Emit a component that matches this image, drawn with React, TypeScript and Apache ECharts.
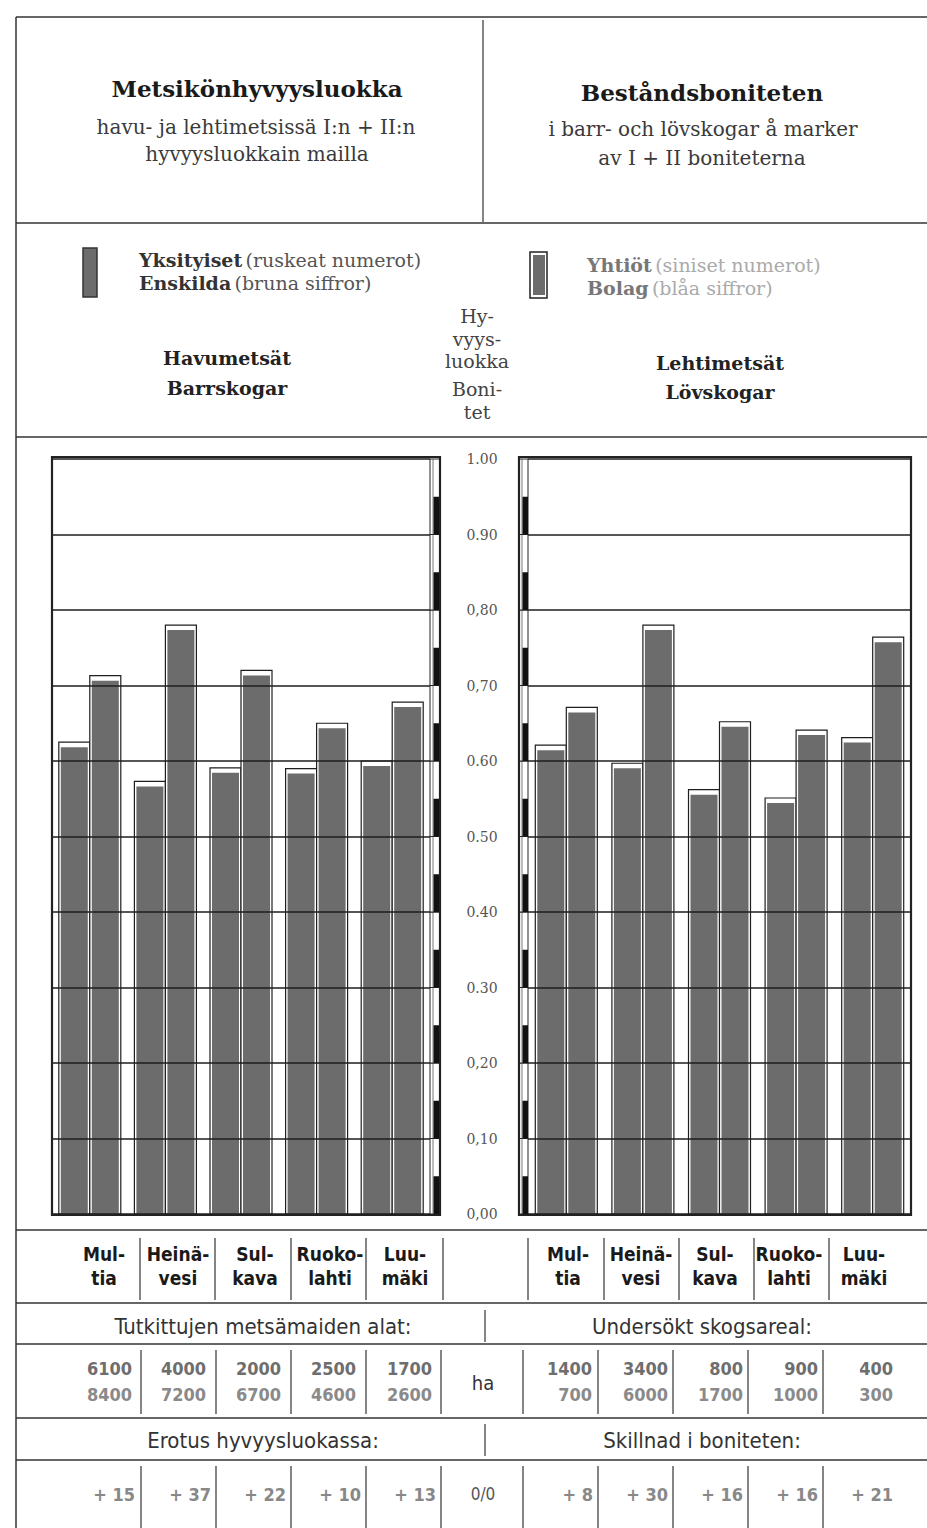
import React, { useEffect, useRef } from "react";
import * as echarts from "echarts";

// ---------- DATA ----------
const categories = ["Multia", "Heinävesi", "Sulkava", "Ruokolahti", "Luumäki"];
const categoryLabels = ["Mul-\ntia", "Heinä-\nvesi", "Sul-\nkava", "Ruoko-\nlahti", "Luu-\nmäki"];

// Havumetsät / Barrskogar
const conifPrivate = [0.625, 0.573, 0.591, 0.59, 0.6];
const conifCompany = [0.713, 0.78, 0.72, 0.65, 0.678];
// Lehtimetsät / Lövskogar
const decidPrivate = [0.621, 0.597, 0.562, 0.551, 0.631];
const decidCompany = [0.671, 0.78, 0.652, 0.641, 0.764];

const yTickLabels = ["0,00", "0,10", "0,20", "0.30", "0.40", "0.50", "0.60", "0,70", "0,80", "0.90", "1.00"];
const scaleSteps = [0, 0.1, 0.2, 0.3, 0.4, 0.5, 0.6, 0.7, 0.8, 0.9];

// Tutkittujen metsämaiden alat / Undersökt skogsareal (ha)
const areaConifPrivate = ["6100", "4000", "2000", "2500", "1700"];
const areaConifCompany = ["8400", "7200", "6700", "4600", "2600"];
const areaDecidPrivate = ["1400", "3400", "800", "900", "400"];
const areaDecidCompany = ["700", "6000", "1700", "1000", "300"];

// Erotus hyvyysluokassa / Skillnad i boniteten (%)
const diffConif = ["+ 15", "+ 37", "+ 22", "+ 10", "+ 13"];
const diffDecid = ["+ 8", "+ 30", "+ 16", "+ 16", "+ 21"];

// ---------- STYLE ----------
const SERIF = "'DejaVu Serif', 'Liberation Serif', serif";
const NARROW = "'Liberation Sans Narrow', 'DejaVu Sans Condensed', 'Liberation Sans', sans-serif";
const INK = "#222";
const BAR = "#6c6c6c";

function barRender(side: number) {
  return (params: any, api: any) => {
    const cat = api.value(0);
    const v = api.value(1);
    const top = api.coord([cat, v]);
    const base = api.coord([cat, 0]);
    const bw = 31;
    const x = side === 0 ? top[0] - bw : top[0];
    const h = base[1] - top[1];
    return {
      type: "group",
      children: [
        { type: "rect", shape: { x, y: top[1], width: bw, height: h }, style: { fill: "#fff", stroke: "#1e1e1e", lineWidth: 1.2 } },
        { type: "rect", shape: { x: x + 2, y: top[1] + 5, width: bw - 4, height: h - 5 }, style: { fill: BAR } },
      ],
    };
  };
}

function scaleRender(side: number) {
  return (params: any, api: any) => {
    const cs = params.coordSys;
    const v = api.value(1);
    const yTop = api.coord([0, v + 0.1])[1];
    const yMid = api.coord([0, v + 0.05])[1];
    const yBot = api.coord([0, v])[1];
    const w = side === 0 ? 10 : 9;
    const x = side === 0 ? cs.x + cs.width : cs.x - w;
    return {
      type: "group",
      children: [
        { type: "rect", shape: { x, y: yTop, width: w, height: yBot - yTop }, style: { fill: "#fff", stroke: INK, lineWidth: 1 } },
        { type: "line", shape: { x1: x + 3, y1: yTop, x2: x + 3, y2: yBot }, style: { stroke: "#555", lineWidth: 0.8 } },
        { type: "rect", shape: { x: x + 3.5, y: yMid, width: w - 3.5, height: yBot - yMid }, style: { fill: "#111" } },
      ],
    };
  };
}

function hline(y: number, x1 = 16, x2 = 927, w = 1.5) {
  return { type: "line", shape: { x1, y1: y, x2, y2: y }, style: { stroke: "#333", lineWidth: w } };
}
function vline(x: number, y1: number, y2: number, w = 1.2) {
  return { type: "line", shape: { x1: x, y1, x2: x, y2 }, style: { stroke: "#333", lineWidth: w } };
}
function txt(text: string, x: number, y: number, font: string, fill = INK, align = "center", extra: any = {}) {
  return { type: "text", x, y, style: { text, font, fill, align, verticalAlign: "middle", ...extra } };
}

export default function App() {
  const ref = useRef<HTMLDivElement>(null);
  useEffect(() => {
    if (!ref.current) return;
    const chart = echarts.init(ref.current, null, { renderer: "svg" });

    const graphics: any[] = [];
    // frame lines
    graphics.push(vline(16, 17, 1528, 1.5));
    [17, 223, 437, 1230, 1303, 1344, 1418, 1460].forEach((y) => graphics.push(hline(y)));
    graphics.push(vline(483, 20, 222));

    // header
    graphics.push(txt("Metsikönhyvyysluokka", 257, 88, `bold 23px ${SERIF}`, "#1a1a1a"));
    graphics.push(txt("havu- ja lehtimetsissä I:n + II:n", 256, 127, `20px ${SERIF}`, "#3a3a3a"));
    graphics.push(txt("hyvyysluokkain mailla", 257, 154, `20px ${SERIF}`, "#3a3a3a"));
    graphics.push(txt("Beståndsboniteten", 702, 92, `bold 23px ${SERIF}`, "#1a1a1a"));
    graphics.push(txt("i barr- och lövskogar å marker", 703, 129, `20px ${SERIF}`, "#3a3a3a"));
    graphics.push(txt("av I + II boniteterna", 702, 158, `20px ${SERIF}`, "#3a3a3a"));

    // legend
    graphics.push({ type: "rect", shape: { x: 83, y: 248, width: 14, height: 49 }, style: { fill: BAR, stroke: "#333", lineWidth: 1.5 } });
    graphics.push({ type: "rect", shape: { x: 530, y: 252, width: 17, height: 46 }, style: { fill: "#fff", stroke: "#222", lineWidth: 1.5 } });
    graphics.push({ type: "rect", shape: { x: 533, y: 255, width: 12, height: 40 }, style: { fill: BAR } });
    const legRich = (c1: string, c2: string) => ({
      b: { font: `bold 19px ${SERIF}`, fill: c1 },
      r: { font: `19px ${SERIF}`, fill: c2 },
    });
    graphics.push({ type: "text", x: 139, y: 260, style: { text: "{b|Yksityiset} {r|(ruskeat numerot)}", rich: legRich("#333", "#555"), verticalAlign: "middle" } });
    graphics.push({ type: "text", x: 139, y: 283, style: { text: "{b|Enskilda} {r|(bruna siffror)}", rich: legRich("#333", "#555"), verticalAlign: "middle" } });
    graphics.push({ type: "text", x: 587, y: 265, style: { text: "{b|Yhtiöt} {r|(siniset numerot)}", rich: legRich("#777", "#aaa"), verticalAlign: "middle" } });
    graphics.push({ type: "text", x: 587, y: 288, style: { text: "{b|Bolag} {r|(blåa siffror)}", rich: legRich("#777", "#aaa"), verticalAlign: "middle" } });

    // section labels
    graphics.push(txt("Havumetsät", 227, 358, `bold 19px ${SERIF}`, "#222"));
    graphics.push(txt("Barrskogar", 227, 388, `bold 19px ${SERIF}`, "#222"));
    graphics.push(txt("Lehtimetsät", 720, 363, `bold 19px ${SERIF}`, "#222"));
    graphics.push(txt("Lövskogar", 720, 392, `bold 19px ${SERIF}`, "#222"));
    [["Hy-", 316], ["vyys-", 339], ["luokka", 361], ["Boni-", 389], ["tet", 412]].forEach(([t, y]) =>
      graphics.push(txt(t as string, 477, y as number, `19px ${SERIF}`, "#444"))
    );

    // chart frames
    graphics.push({ type: "rect", shape: { x: 52, y: 457, width: 388, height: 758 }, style: { fill: "none", stroke: INK, lineWidth: 2.2 }, z: 50 });
    graphics.push({ type: "rect", shape: { x: 519, y: 457, width: 392, height: 758 }, style: { fill: "none", stroke: INK, lineWidth: 2.2 }, z: 50 });

    // table row 1: names
    const nameXL = [104, 178, 255, 330, 405];
    const nameXR = [568, 641, 715, 789, 864];
    categoryLabels.forEach((lab, i) => {
      graphics.push(txt(lab, nameXL[i], 1266, `bold 19px ${NARROW}`, "#1a1a1a", "center", { lineHeight: 24 }));
      graphics.push(txt(lab, nameXR[i], 1266, `bold 19px ${NARROW}`, "#1a1a1a", "center", { lineHeight: 24 }));
    });
    [140, 215, 291, 366, 443, 528, 604, 679, 754, 829].forEach((x) => graphics.push(vline(x, 1238, 1300)));

    // row 2
    graphics.push(txt("Tutkittujen metsämaiden alat:", 263, 1326, `22px ${NARROW}`, "#333"));
    graphics.push(txt("Undersökt skogsareal:", 702, 1326, `22px ${NARROW}`, "#333"));
    graphics.push(vline(485, 1310, 1342));

    // row 3: areas
    const endXL = [132, 206, 281, 356, 432];
    const endXR = [592, 668, 743, 818, 893];
    for (let i = 0; i < 5; i++) {
      graphics.push(txt(areaConifPrivate[i], endXL[i], 1368, `bold 18px ${NARROW}`, "#6e6e6e", "right"));
      graphics.push(txt(areaConifCompany[i], endXL[i], 1394, `bold 18px ${NARROW}`, "#8a8a8a", "right"));
      graphics.push(txt(areaDecidPrivate[i], endXR[i], 1368, `bold 18px ${NARROW}`, "#6e6e6e", "right"));
      graphics.push(txt(areaDecidCompany[i], endXR[i], 1394, `bold 18px ${NARROW}`, "#8a8a8a", "right"));
    }
    graphics.push(txt("ha", 483, 1383, `20px ${NARROW}`, "#333"));
    const tableCols = [141, 216, 291, 366, 441, 523, 598, 673, 748, 823];
    tableCols.forEach((x) => graphics.push(vline(x, 1350, 1414)));

    // row 4
    graphics.push(txt("Erotus hyvyysluokassa:", 263, 1440, `22px ${NARROW}`, "#333"));
    graphics.push(txt("Skillnad i boniteten:", 702, 1440, `22px ${NARROW}`, "#333"));
    graphics.push(vline(485, 1424, 1456));

    // row 5: differences
    const endDL = [135, 211, 286, 361, 436];
    const endDR = [593, 668, 743, 818, 893];
    for (let i = 0; i < 5; i++) {
      graphics.push(txt(diffConif[i], endDL[i], 1494, `bold 18px ${NARROW}`, "#888", "right"));
      graphics.push(txt(diffDecid[i], endDR[i], 1494, `bold 18px ${NARROW}`, "#888", "right"));
    }
    graphics.push(txt("0/0", 483, 1494, `17px ${NARROW}`, "#555"));
    tableCols.forEach((x) => graphics.push(vline(x, 1466, 1528)));

    const yAxisBase = {
      type: "value",
      min: 0,
      max: 1,
      interval: 0.1,
      z: 5,
      axisLine: { show: false },
      axisTick: { show: false },
      splitLine: { show: true, lineStyle: { color: "#1e1e1e", width: 1.6 } },
    };

    const option: any = {
      animation: false,
      backgroundColor: "#fff",
      grid: [
        { left: 52, top: 459, width: 378, height: 755 },
        { left: 528, top: 459, width: 383, height: 755 },
      ],
      xAxis: [
        { type: "category", gridIndex: 0, data: categories, show: false },
        { type: "category", gridIndex: 1, data: categories, show: false },
      ],
      yAxis: [
        {
          ...yAxisBase,
          gridIndex: 0,
          position: "right",
          axisLabel: {
            show: true,
            margin: 52,
            align: "center",
            fontFamily: SERIF,
            fontSize: 14,
            color: "#555",
            formatter: (v: number) => yTickLabels[Math.round(v * 10)],
          },
        },
        { ...yAxisBase, gridIndex: 1, axisLabel: { show: false } },
      ],
      series: [
        { name: "Yksityiset", type: "custom", xAxisIndex: 0, yAxisIndex: 0, z: 2, renderItem: barRender(0), data: conifPrivate.map((v, i) => [i, v]) },
        { name: "Yhtiöt", type: "custom", xAxisIndex: 0, yAxisIndex: 0, z: 2, renderItem: barRender(1), data: conifCompany.map((v, i) => [i, v]) },
        { name: "Yksityiset ", type: "custom", xAxisIndex: 1, yAxisIndex: 1, z: 2, renderItem: barRender(0), data: decidPrivate.map((v, i) => [i, v]) },
        { name: "Yhtiöt ", type: "custom", xAxisIndex: 1, yAxisIndex: 1, z: 2, renderItem: barRender(1), data: decidCompany.map((v, i) => [i, v]) },
        { type: "custom", xAxisIndex: 0, yAxisIndex: 0, z: 6, renderItem: scaleRender(0), data: scaleSteps.map((v) => [0, v]) },
        { type: "custom", xAxisIndex: 1, yAxisIndex: 1, z: 6, renderItem: scaleRender(1), data: scaleSteps.map((v) => [0, v]) },
      ],
      graphic: graphics,
    };
    chart.setOption(option);
    return () => chart.dispose();
  }, []);

  return (
    <div
      ref={ref}
      style={{ position: "absolute", left: 0, top: 0, width: 927, height: 1528, background: "#fff" }}
    />
  );
}
